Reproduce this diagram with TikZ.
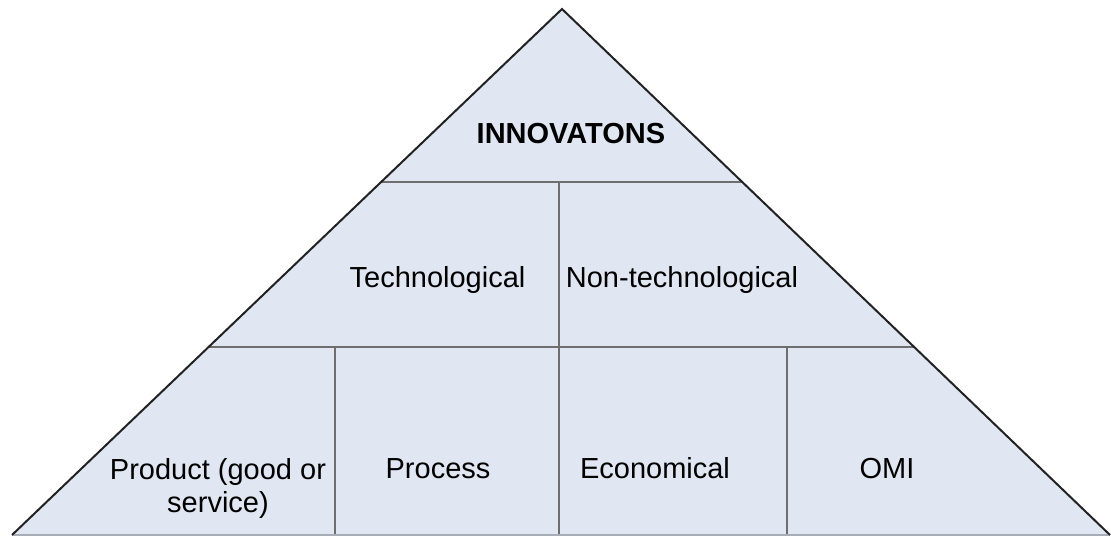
\documentclass[tikz,border=0pt]{standalone}
\usepackage{fontspec}
\setmainfont{Liberation Sans}
\definecolor{pyrfill}{HTML}{E1E7F2}
\definecolor{innerline}{HTML}{6E6E6E}
\definecolor{outline}{HTML}{222222}
\definecolor{baseline}{HTML}{A8ADB5}
\begin{document}
\begin{tikzpicture}[x=1pt,y=-1pt,
  lbl/.style={font=\fontsize{29}{33}\selectfont, inner sep=0pt, anchor=base, text=black},
  divider/.style={draw=innerline, line width=1.8pt},
  edge/.style={draw=outline, line width=2pt, line join=miter}]
\useasboundingbox (0,0) rectangle (1111,536);
\coordinate (apex) at (562,9);
\coordinate (bl) at (12,535);
\coordinate (br) at (1110,535);
\fill[pyrfill] (apex) -- (bl) -- (br) -- cycle;
% horizontal dividers
\draw[divider] (381,182) -- (742,182);
\draw[divider] (209,347) -- (914,347);
% vertical dividers
\draw[divider] (559,182) -- (559,535);
\draw[divider] (335,347) -- (335,535);
\draw[divider] (787,347) -- (787,535);
% base
\draw[draw=baseline, line width=1.8pt] (bl) -- (br);
% sides
\draw[edge] (bl) -- (apex) -- (br);
% labels
\node[lbl, font=\fontsize{29}{33}\selectfont\bfseries] (inn) at (571,143) {INNOVATONS};
\node[lbl] (tech) at (437.5,287) {Technological};
\node[lbl] (nontech) at (682,287) {Non-technological};
\node[lbl, align=center] (prod) at (218,512) {Product (good or\\service)};
\node[lbl] (proc) at (438,478) {Process};
\node[lbl] (econ) at (655,478) {Economical};
\node[lbl] (omi) at (887,478) {OMI};
\end{tikzpicture}
\end{document}
